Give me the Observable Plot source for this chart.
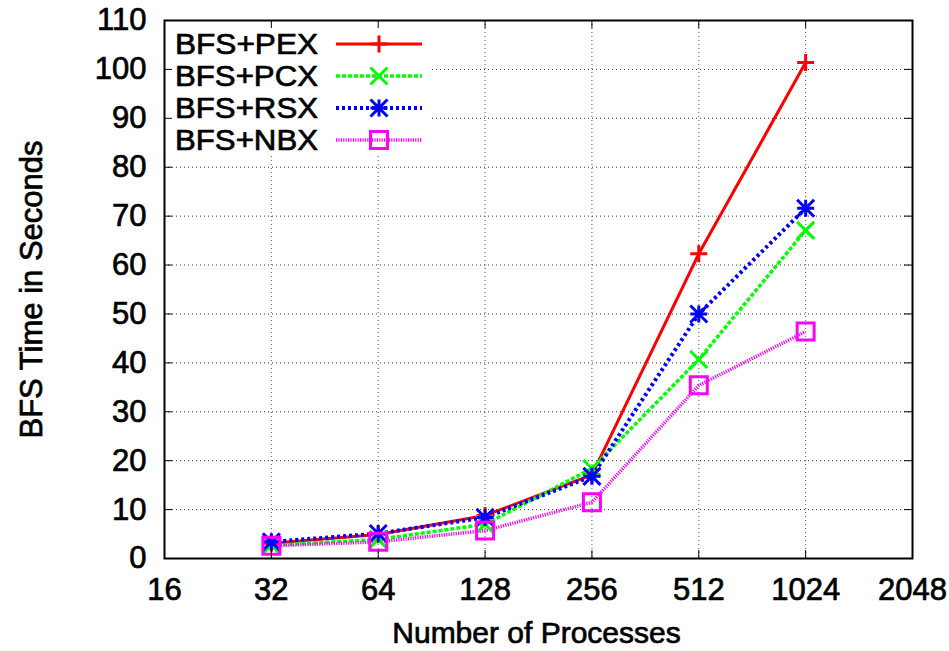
<!DOCTYPE html>
<html>
<head>
<meta charset="utf-8">
<script src="https://cdn.jsdelivr.net/npm/d3@7"></script>
<script src="https://cdn.jsdelivr.net/npm/@observablehq/plot@0.6"></script>
<style>
  html, body { margin: 0; padding: 0; background: #fff; }
  #chart svg { display: block; }
  #chart svg text { stroke: #000; stroke-width: 0.7px; paint-order: stroke; }
</style>
</head>
<body>
<div id="chart"></div>
<script>
// ---- Data ----
const processes = [32, 64, 128, 256, 512, 1024];
const seriesNames = ["BFS+PEX", "BFS+PCX", "BFS+RSX", "BFS+NBX"];
const pexValues = [3.1, 4.9, 8.8, 17.1, 62.3, 101.4];
const pcxValues = [2.7, 3.9, 7.0, 18.4, 40.7, 67.1];
const rsxValues = [3.4, 5.1, 8.4, 16.8, 50.0, 71.6];
const nbxValues = [2.6, 3.4, 5.7, 11.5, 35.4, 46.4];
const xTicks = [16, 32, 64, 128, 256, 512, 1024, 2048];
const yTicks = [0, 10, 20, 30, 40, 50, 60, 70, 80, 90, 100, 110];

// ---- Styles ----
const W = 949, H = 651;
const mL = 164, mR = 37, mT = 20, mB = 93;
const plotW = W - mL - mR, plotH = H - mT - mB;
const FONT = "Liberation Sans, Arial, Helvetica, sans-serif";
const FS = 31;

const symPlus = {draw(c, s) { const r = Math.sqrt(s / Math.PI); c.moveTo(-r, 0); c.lineTo(r, 0); c.moveTo(0, -r); c.lineTo(0, r); }};
const symTimes = {draw(c, s) { const r = Math.sqrt(s / Math.PI); c.moveTo(-r, -r); c.lineTo(r, r); c.moveTo(-r, r); c.lineTo(r, -r); }};
const symStar = {draw(c, s) { const r = Math.sqrt(s / Math.PI); c.moveTo(-r, 0); c.lineTo(r, 0); c.moveTo(0, -r); c.lineTo(0, r); c.moveTo(-r, -r); c.lineTo(r, r); c.moveTo(-r, r); c.lineTo(r, -r); }};
const symSquare = {draw(c, s) { const r = Math.sqrt(s / Math.PI); c.rect(-r, -r, 2 * r, 2 * r); }};

const styles = [
  {color: "#ff0000", dash: null, width: 3, symbol: symPlus, values: pexValues},
  {color: "#00ff00", dash: "4,2", width: 3.5, symbol: symTimes, values: pcxValues},
  {color: "#0000ff", dash: "3,3", width: 4, symbol: symStar, values: rsxValues},
  {color: "#ff00ff", dash: "1.2,1.2", width: 3.5, symbol: symSquare, values: nbxValues}
];

const data = [];
seriesNames.forEach((name, i) => processes.forEach((p, j) => data.push({series: name, p, v: styles[i].values[j]})));

// tick lengths in data units (8px)
const tk = 8;
const yTickLen = tk * 110 / plotH;
const xFactor = Math.pow(2, tk * 7 / plotW);

const lineMarks = [];
const dotMarks = [];
seriesNames.forEach((name, i) => {
  const st = styles[i];
  const d = data.filter(r => r.series === name);
  lineMarks.push(Plot.line(d, {x: "p", y: "v", stroke: st.color, strokeWidth: st.width, strokeDasharray: st.dash, strokeLinecap: "butt"}));
  dotMarks.push(Plot.dot(d, {x: "p", y: "v", symbol: st.symbol, r: 8.5, stroke: st.color, strokeWidth: 3, fill: "none"}));
});

const chart = Plot.plot({
  width: W, height: H,
  marginLeft: mL, marginRight: mR, marginTop: mT, marginBottom: mB,
  style: {fontFamily: FONT, background: "#fff"},
  x: {type: "log", base: 2, domain: [16, 2048]},
  y: {domain: [0, 110]},
  marks: [
    Plot.ruleX(xTicks.slice(1, -1), {x: d => d, stroke: "#555", strokeWidth: 1, strokeDasharray: "1,3"}),
    Plot.ruleY(yTicks.slice(1, -1), {y: d => d, stroke: "#333", strokeWidth: 1, strokeDasharray: "1,3"}),
    ...lineMarks,
    ...dotMarks,
    // inward ticks on all sides
    Plot.ruleX(xTicks, {x: d => d, y1: 0, y2: yTickLen, stroke: "#000", strokeWidth: 1}),
    Plot.ruleX(xTicks, {x: d => d, y1: 110 - yTickLen, y2: 110, stroke: "#000", strokeWidth: 1}),
    Plot.ruleY(yTicks, {y: d => d, x1: 16, x2: 16 * xFactor, stroke: "#000", strokeWidth: 1}),
    Plot.ruleY(yTicks, {y: d => d, x1: 2048 / xFactor, x2: 2048, stroke: "#000", strokeWidth: 1}),
    Plot.frame({stroke: "#000", strokeWidth: 2}),
    Plot.axisX(xTicks, {anchor: "bottom", tickSize: 0, tickPadding: 19, fontSize: FS, fill: "#000", tickFormat: d => String(d), label: null}),
    Plot.axisY(yTicks, {anchor: "left", tickSize: 0, tickPadding: 18, fontSize: FS, fill: "#000", label: null}),
    Plot.text(["BFS Time in Seconds"], {frameAnchor: "left", dx: -132, rotate: -90, fontSize: FS, fill: "#000", textAnchor: "middle", lineAnchor: "middle"}),
    Plot.text(["Number of Processes"], {frameAnchor: "bottom", dx: -2, dy: 75, fontSize: 30, fill: "#000", textAnchor: "middle", lineAnchor: "middle"})
  ]
});

// ---- Legend (drawn into the plot's SVG, above the grid, below the data) ----
const firstLine = chart.querySelector('[aria-label="line"]');
const lg = document.createElementNS("http://www.w3.org/2000/svg", "g");
chart.insertBefore(lg, firstLine);
const L = d3.select(lg);
L.append("rect").attr("x", mL + 1.5).attr("y", mT + 1.5).attr("width", 265).attr("height", 134).attr("fill", "#fff").attr("stroke", "none");
const rowsY = [44, 76, 108, 140];
seriesNames.forEach((name, i) => {
  const st = styles[i];
  const y = rowsY[i];
  L.append("text").attr("x", 318).attr("y", y).attr("dy", "0.35em").attr("text-anchor", "end")
    .attr("font-size", 29).attr("textLength", 143).attr("lengthAdjust", "spacingAndGlyphs")
    .attr("font-family", FONT).attr("fill", "#000").text(name);
  L.append("line").attr("x1", 336).attr("x2", 422).attr("y1", y).attr("y2", y)
    .attr("stroke", st.color).attr("stroke-width", st.width).attr("stroke-dasharray", st.dash);
  const r = 8.5;
  const p = d3.path();
  st.symbol.draw(p, r * r * Math.PI);
  L.append("path").attr("d", p.toString()).attr("transform", `translate(379,${y})`)
    .attr("stroke", st.color).attr("stroke-width", 3).attr("fill", "none");
});

document.getElementById("chart").appendChild(chart);
</script>
</body>
</html>
